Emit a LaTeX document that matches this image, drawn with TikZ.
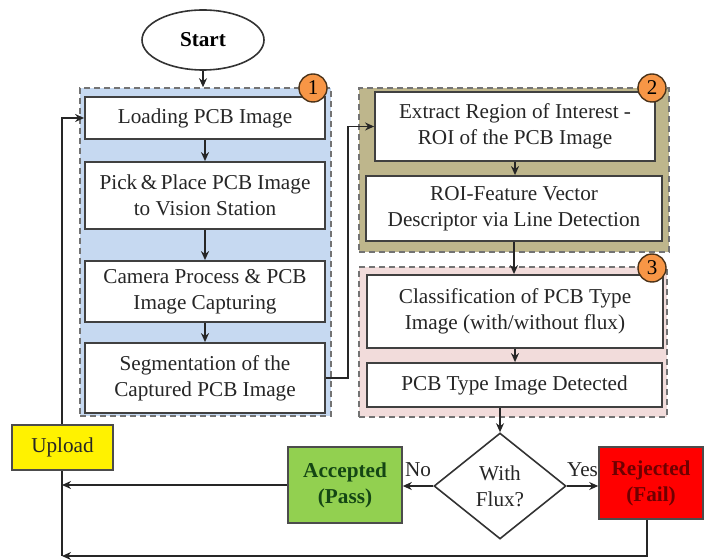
\documentclass[tikz,border=0pt]{standalone}
\usepackage{fontspec}
\setmainfont{Liberation Serif}
\usetikzlibrary{shapes.geometric,arrows.meta,positioning}
\definecolor{grpone}{RGB}{198,217,241}
\definecolor{grptwo}{RGB}{190,182,140}
\definecolor{grpthree}{RGB}{242,220,219}
\definecolor{badge}{RGB}{247,150,70}
\definecolor{passgreen}{RGB}{146,208,80}
\definecolor{passtext}{RGB}{20,70,20}
\definecolor{failtext}{RGB}{110,0,0}
\tikzset{
  box/.style={draw=black!75, line width=0.9pt, fill=white, align=center, inner sep=0pt, font=\fontsize{10.6}{13}\selectfont, text=black!85},
  grp/.style={draw=black!55, line width=0.8pt, dash pattern=on 3pt off 2pt, inner sep=0pt},
  num/.style={circle, draw=black!60!brown, line width=0.7pt, fill=badge, minimum size=14pt, inner sep=0pt, font=\fontsize{10.5}{12}\selectfont},
  arr/.style={-{Stealth[length=4.5pt,width=4pt]}, line width=0.8pt, black!85},
  lbl/.style={font=\fontsize{10.6}{13}\selectfont, text=black!85}
}
\begin{document}
\begin{tikzpicture}[x=0.5pt,y=-0.5pt]
\useasboundingbox (0,0) rectangle (704,560);

% groups
\node[grp, fill=grpone, minimum width=125.5pt, minimum height=164pt] (grp1) at (205.5,252) {};
\node[grp, fill=grptwo, minimum width=155pt, minimum height=82pt] (grp2) at (514,170) {};
\node[grp, fill=grpthree, minimum width=154pt, minimum height=75pt] (grp3) at (513,342) {};

\node[draw=black!80, line width=0.8pt, ellipse, minimum width=61pt, minimum height=30pt, inner sep=0pt, font=\bfseries\fontsize{10.6}{13}\selectfont] (start) at (203,40) {Start};

\node[box, minimum width=120pt, minimum height=21pt] (load) at (205,118) {Loading PCB Image};
\node[box, minimum width=120pt, minimum height=33.5pt] (pick) at (205,195.5) {Pick\,\&\,Place PCB Image\\to Vision Station};
\node[box, minimum width=120pt, minimum height=30.5pt] (cam) at (205,291.5) {Camera Process \& PCB\\Image Capturing};
\node[box, minimum width=120pt, minimum height=35pt] (seg) at (205,378) {Segmentation of the\\Captured PCB Image};

\node[box, minimum width=140pt, minimum height=34.5pt] (ext) at (515,126.5) {Extract Region of Interest -\\ROI of the PCB Image};
\node[box, minimum width=148pt, minimum height=32.5pt] (roi) at (514,208.5) {ROI-Feature Vector\\Descriptor via Line Detection};

\node[box, minimum width=148pt, minimum height=36.5pt] (cls) at (515,311.5) {Classification of PCB Type\\Image (with/without flux)};
\node[box, minimum width=147.5pt, minimum height=22pt] (det) at (514.5,385) {PCB Type Image Detected};

\node[num] (n1) at (313,88) {1};
\node[num] (n2) at (652,88) {2};
\node[num] (n3) at (652,268) {3};

\node[draw=black!80, line width=0.8pt, diamond, minimum width=66pt, minimum height=53pt, inner sep=0pt, align=center, lbl] (dia) at (500,486) {With\\Flux?};
\node[draw=black!70, line width=0.8pt, fill=passgreen, minimum width=57pt, minimum height=38pt, inner sep=0pt, align=center, text=passtext, font=\bfseries\fontsize{10.6}{13}\selectfont] (acc) at (345,485) {Accepted\\(Pass)};
\node[draw=black!70, line width=0.8pt, fill=red, minimum width=52pt, minimum height=36pt, inner sep=0pt, align=center, text=failtext, font=\bfseries\fontsize{10.6}{13}\selectfont] (rej) at (651,483) {Rejected\\(Fail)};

\coordinate (loopB) at (62,556);

\draw[arr] (start.south) -- (start.south |- grp1.north);
\draw[arr] (load) -- (pick);
\draw[arr] (pick) -- (cam);
\draw[arr] (cam) -- (seg);
\draw[arr] (seg.east) -- ++(22,0) |- (ext.west);
\draw[arr] (ext.south) -- (ext.south |- roi.north);
\draw[arr] (roi.south) -- (roi.south |- cls.north);
\draw[arr] (cls.south) -- (cls.south |- det.north);
\draw[arr] (det.south -| dia.north) -- (dia.north);
\draw[arr] (dia.west) -- node[lbl, above=1pt] {No} (dia.west -| acc.east);
\draw[arr] (dia.east) -- node[lbl, above=1pt] {Yes} (dia.east -| rej.west);
\draw[arr] (acc.west) -- (acc.west -| loopB);
\draw[arr] (rej.south -| 647,0) |- (loopB);
\draw[arr] (loopB) |- (load.west);

\node[draw=black!70, line width=0.8pt, fill=yellow, minimum width=50.5pt, minimum height=22.5pt, inner sep=0pt, lbl] (upload) at (62.5,447.5) {Upload};
\end{tikzpicture}
\end{document}
